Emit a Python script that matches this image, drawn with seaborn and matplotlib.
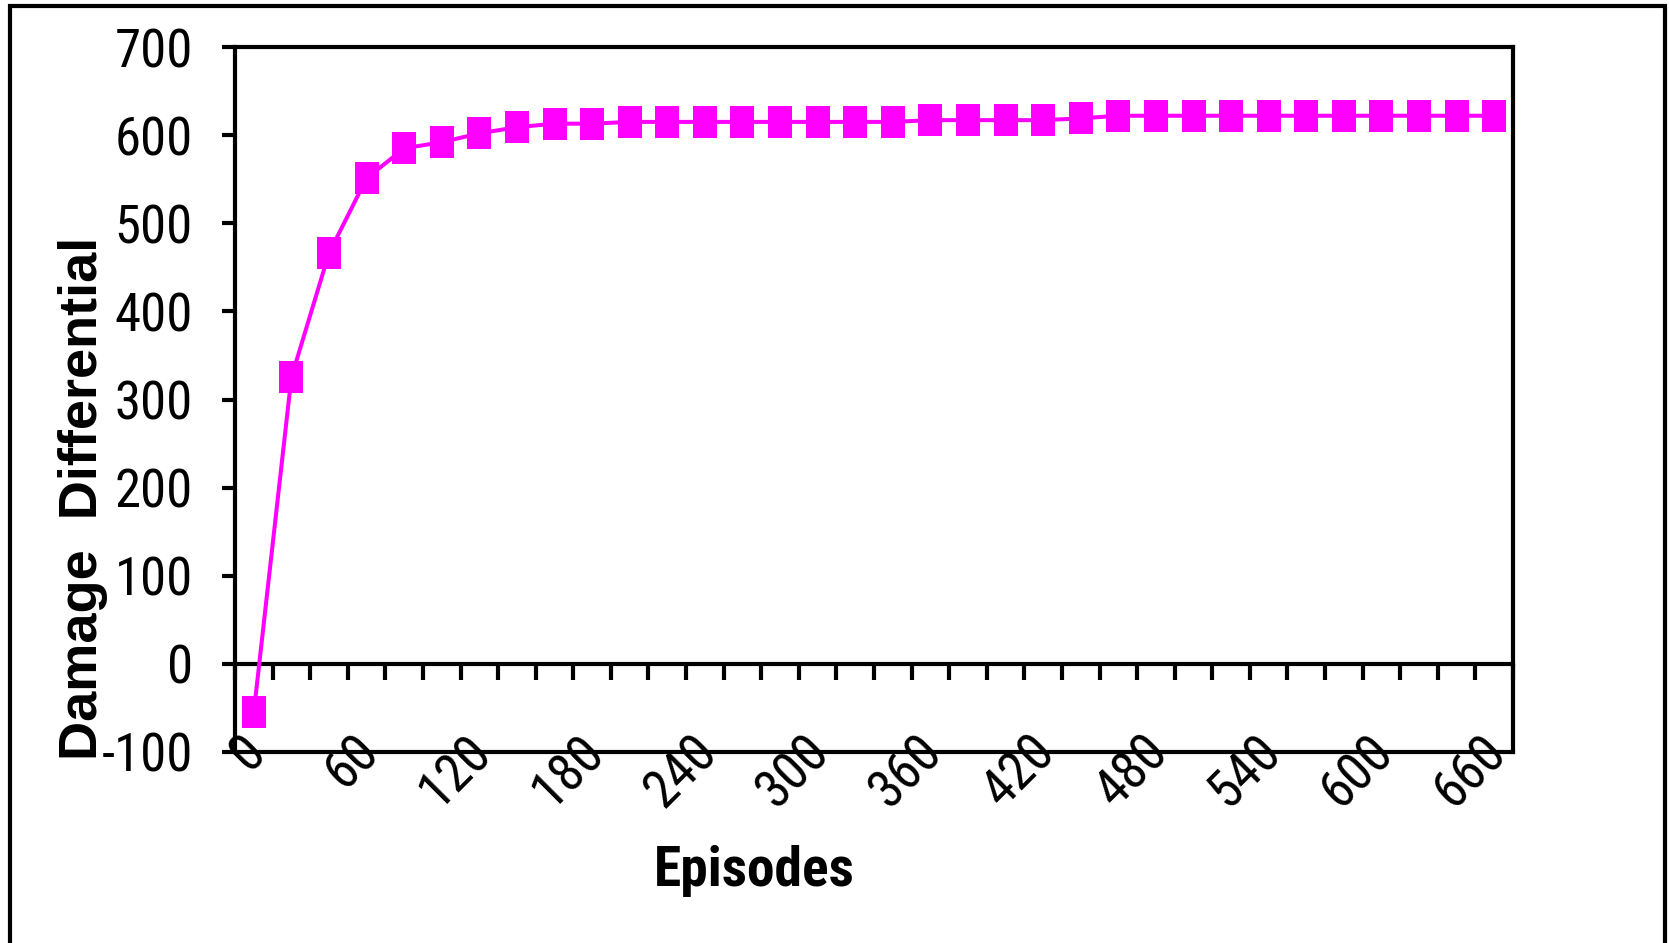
import numpy as np
import matplotlib
matplotlib.use("Agg")
import matplotlib.pyplot as plt
import matplotlib.font_manager as fm
import matplotlib.transforms as mtrans
from matplotlib.patches import Rectangle
import seaborn as sns

# ---- data ----
episodes = [0, 20, 40, 60, 80, 100, 120, 140, 160, 180, 200, 220, 240, 260, 280, 300, 320,
            340, 360, 380, 400, 420, 440, 460, 480, 500, 520, 540, 560, 580, 600, 620, 640, 660]
damage = [-55, 325, 466, 551, 585, 592, 602, 609, 613, 613, 615, 615, 615, 615, 615, 615, 615,
          615, 617, 617, 617, 617, 619, 622, 622, 622, 622, 622, 622, 622, 622, 622, 622, 622]
y_ticks = [-100, 0, 100, 200, 300, 400, 500, 600, 700]
x_label_every = 3
x_tick_labels = [str(e) for e in episodes[::x_label_every]]

sns.set_theme(style="white")

# pick a narrow sans family (Arial Narrow look-alike)
prefs = ["Liberation Sans Narrow", "Arial Narrow", "Roboto Condensed", "Archivo Narrow",
         "Barlow Semi Condensed", "Asap Condensed"]
entries = fm.fontManager.ttflist
def has(name, bold=False):
    for f in entries:
        if f.name == name and "italic" not in f.style.lower() and "oblique" not in f.style.lower():
            w = f.weight if isinstance(f.weight, int) else (700 if "bold" in str(f.weight) else 400)
            if (w >= 700) == bold and "[" not in f.fname:
                return True
    return False
reg = next((n for n in prefs if has(n)), None)
if reg is None:
    reg = next((n for n in prefs if any(f.name == n for f in entries)), "Liberation Sans")
bold_fam = next((n for n in prefs if has(n, bold=True)), reg)

plt.rcParams["font.family"] = [reg, "DejaVu Sans"]
for k in ["text.color", "axes.labelcolor", "xtick.color", "ytick.color", "axes.edgecolor"]:
    plt.rcParams[k] = "black"

W, H = 1669, 943
fig = plt.figure(figsize=(W / 100, H / 100), dpi=100)
fig.patch.set_facecolor("white")
L, R, T, B = 235, 1513, 47, 752
ax = fig.add_axes([L / W, 1 - B / H, (R - L) / W, (B - T) / H])
ax.set_facecolor("white")

x = np.arange(len(episodes))
verts = [(-0.75, -1), (0.75, -1), (0.75, 1), (-0.75, 1), (-0.75, -1)]
sns.lineplot(x=x, y=damage, ax=ax, color="#FF00FF", linewidth=2.9,
             marker=verts, markersize=23, markeredgewidth=0, zorder=5)

ax.set_xlim(-0.5, len(episodes) - 0.5)
ax.set_ylim(-100, 700)
ax.set_yticks(y_ticks)
ax.set_yticklabels([str(v) for v in y_ticks])
ax.tick_params(axis="y", direction="out", length=9.4, width=3, pad=21,
               labelsize=38, left=True, colors="black")

ax.set_xticks(x[::x_label_every])
ax.set_xticklabels(x_tick_labels, rotation=45, ha="right", va="center",
                   rotation_mode="anchor")
ax.tick_params(axis="x", length=0, pad=-6, labelsize=38, bottom=True, colors="black")
# slight right shift of rotated labels (as in reference)
offset = mtrans.ScaledTranslation(4 / 100, 0, fig.dpi_scale_trans)
for lab in ax.get_xticklabels():
    lab.set_transform(lab.get_transform() + offset)

for s in ax.spines.values():
    s.set_linewidth(3)
    s.set_color("black")
    s.set_visible(True)

# zero axis line with tick marks between categories
sec = ax.secondary_xaxis(0, transform=ax.transData)
sec.set_xticks(np.arange(-0.5, len(episodes) + 0.5, 1.0))
sec.tick_params(axis="x", direction="out", length=11.5, width=3,
                labelbottom=False, colors="black")
sec.spines["bottom"].set_linewidth(3)
sec.spines["bottom"].set_color("black")

ax.set_ylabel("Damage  Differential", fontsize=39, fontweight="bold", va="center",
              family=["Liberation Sans", "DejaVu Sans"])
ax.yaxis.set_label_coords(-0.119, 0.360)
ax.set_xlabel("Episodes", fontsize=40, fontweight="bold", va="center",
              family=[bold_fam, "DejaVu Sans"])
ax.xaxis.set_label_coords(0.406, -0.169)

fig.add_artist(Rectangle((10 / W, -0.05), (1665 - 10) / W, 1 - 6 / H + 0.05,
                         transform=fig.transFigure, fill=False, lw=3, ec="black"))

fig.savefig("out.png", dpi=100, facecolor="white")
